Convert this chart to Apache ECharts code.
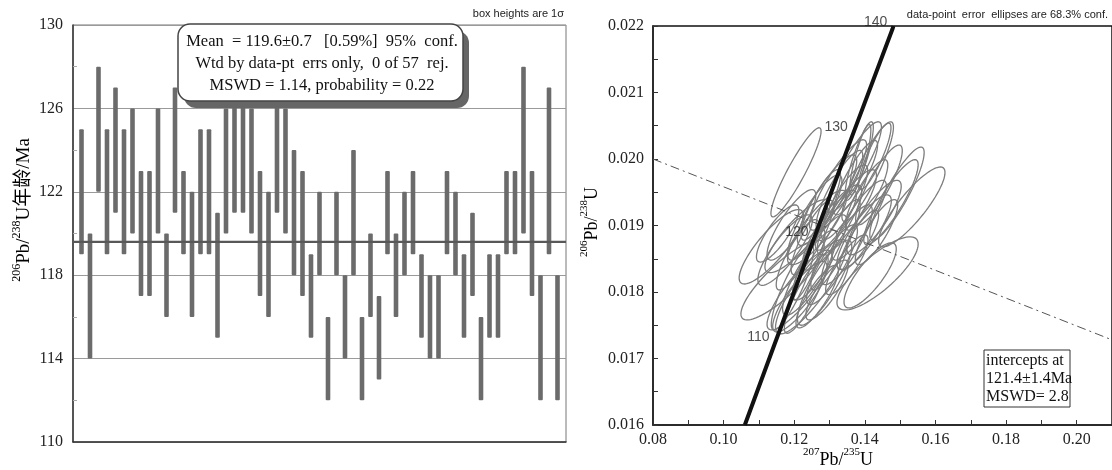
<!DOCTYPE html>
<html><head><meta charset="utf-8">
<script src="https://cdn.jsdelivr.net/npm/echarts@6/dist/echarts.min.js"></script>
<style>html,body{margin:0;padding:0;background:#fff}#c{width:1112px;height:470px}</style>
</head><body><div id="c"></div>
<script>
// ---------- Left panel: 206Pb/238U ages (box heights 1 sigma) ----------
const spotNo = [1,2,3,4,5,6,7,8,9,10,11,12,13,14,15,16,17,18,19,20,21,22,23,24,25,26,27,28,29,30,31,32,33,34,35,36,37,38,39,40,41,42,43,44,45,46,47,48,49,50,51,52,53,54,55,56,57];
const ageLow  = [119,114,122,119,121,119,120,117,117,120,116,121,119,116,119,119,115,120,121,121,120,117,116,121,120,118,117,115,118,112,118,114,118,112,116,113,119,116,118,119,115,114,114,119,118,115,117,112,115,115,119,119,120,117,112,119,112];
const ageHigh = [125,120,128,125,127,125,126,123,123,126,120,127,123,122,125,125,121,126,127,127,126,123,122,127,126,124,123,119,122,116,122,118,124,116,120,117,123,120,122,123,119,118,118,123,122,119,121,116,119,119,123,123,128,123,118,127,118];
const meanAge = 119.6;

// ---------- Right panel: concordia diagram ----------
// error ellipses: centre, half-extent in x and y, correlation
const ellCx = [0.1205,0.1135,0.1167,0.1209,0.1215,0.1248,0.1436,0.1415,0.1491,0.1474,0.1533,0.1370,0.1408,0.1384,0.1387,0.1324,0.1293,0.1258,0.1307,0.1349,0.1384,0.1317,0.1272,0.1244,0.1286,0.1195,0.1234,0.1307,0.1349,0.1398,0.1426,0.1265,0.1174,0.1328,0.1374,0.1440,0.1251,0.1209,0.1192,0.1293,0.1349,0.1384,0.1275,0.1433,0.1216,0.1318,0.1241,0.1405,0.1153,0.1428,0.1265,0.1342];
const ellCy = [0.01980,0.01868,0.01818,0.01884,0.01803,0.01808,0.01828,0.01825,0.01948,0.01935,0.01928,0.01988,0.01981,0.01997,0.01999,0.01961,0.01938,0.01912,0.01897,0.01920,0.01908,0.01871,0.01852,0.01829,0.01814,0.01807,0.01797,0.01841,0.01871,0.01890,0.01912,0.01897,0.01863,0.01953,0.01972,0.01961,0.01882,0.01856,0.01901,0.01803,0.01841,0.01878,0.01931,0.01890,0.01793,0.01908,0.01841,0.01946,0.01888,0.02004,0.01793,0.01935];
const ellSx = [0.0071,0.0091,0.0118,0.0092,0.0092,0.0101,0.0115,0.0074,0.0077,0.0077,0.0094,0.0077,0.0073,0.0040,0.0030,0.0081,0.0084,0.0077,0.0084,0.0084,0.0077,0.0070,0.0077,0.0077,0.0077,0.0060,0.0062,0.0072,0.0072,0.0077,0.0077,0.0084,0.0077,0.0066,0.0062,0.0066,0.0060,0.0060,0.0069,0.0060,0.0060,0.0055,0.0056,0.0060,0.0077,0.0058,0.0046,0.0060,0.0060,0.0046,0.0060,0.0066];
const ellSy = [0.00067,0.00056,0.00060,0.00055,0.00060,0.00071,0.00055,0.00049,0.00070,0.00064,0.00060,0.00068,0.00075,0.00059,0.00053,0.00068,0.00068,0.00064,0.00064,0.00064,0.00060,0.00068,0.00064,0.00064,0.00064,0.00064,0.00059,0.00060,0.00060,0.00056,0.00056,0.00056,0.00053,0.00060,0.00056,0.00060,0.00056,0.00053,0.00053,0.00045,0.00045,0.00045,0.00053,0.00049,0.00053,0.00045,0.00053,0.00053,0.00043,0.00050,0.00047,0.00056];
const ellRho = [0.92,0.84,0.85,0.84,0.86,0.86,0.80,0.81,0.88,0.88,0.86,0.88,0.89,0.86,0.84,0.88,0.87,0.86,0.85,0.86,0.86,0.87,0.85,0.85,0.85,0.87,0.87,0.85,0.85,0.84,0.84,0.84,0.84,0.87,0.87,0.86,0.85,0.85,0.84,0.84,0.84,0.84,0.85,0.84,0.84,0.84,0.87,0.85,0.82,0.86,0.84,0.85];
// concordia curve
const concX = [0.1060,0.1144,0.1255,0.1366,0.1478,0.1481];
const concY = [0.0160,0.01721,0.01879,0.02037,0.02195,0.0220];
// age marks on the concordia
const markAge = ['110','120','130','140'];
const markX = [0.1144,0.1255,0.1366,0.1478];
const markY = [0.01721,0.01879,0.02037,0.02195];
// dash-dot reference line
const refX = [0.08,0.21];
const refY = [0.0200,0.01728];

const SERIF = "'Liberation Serif','Noto Sans CJK SC',serif";
const SANS = "'Liberation Sans','DejaVu Sans',sans-serif";

const chart = echarts.init(document.getElementById('c'));

const supRich = {
  s: {fontFamily: SERIF, fontSize: 11, verticalAlign: 'top', lineHeight: 22, color: '#111'},
  n: {fontFamily: SERIF, fontSize: 18, verticalAlign: 'bottom', lineHeight: 22, color: '#111'}
};
const supRichBig = {
  s: {fontFamily: SERIF, fontSize: 12, verticalAlign: 'top', lineHeight: 23, color: '#111'},
  n: {fontFamily: SERIF, fontSize: 19, verticalAlign: 'bottom', lineHeight: 23, color: '#111'}
};

const option = {
  animation: false,
  backgroundColor: '#fff',
  grid: [
    {left: 73, top: 25, width: 493, height: 417, show: true, borderColor: '#777', borderWidth: 1},
    {left: 653, top: 26, width: 464, height: 399, show: true, borderColor: '#111', borderWidth: 1.5}
  ],
  xAxis: [
    {gridIndex: 0, type: 'value', min: 0, max: 58,
     axisLine: {show: true, lineStyle: {color: '#333', width: 1.5}},
     axisTick: {show: false}, axisLabel: {show: false}, splitLine: {show: false}},
    {gridIndex: 1, type: 'value', min: 0.08, max: 0.21, interval: 0.02,
     axisLine: {show: true, onZero: false, lineStyle: {color: '#222', width: 1.5}},
     axisTick: {show: true, inside: true, length: 5, lineStyle: {color: '#333'}},
     minorTick: {show: true, splitNumber: 2, length: 5, lineStyle: {color: '#333'}},
     splitLine: {show: false},
     axisLabel: {margin: 7, fontFamily: SERIF, fontSize: 16, color: '#222', showMaxLabel: false,
                 formatter: v => v.toFixed(2)}}
  ],
  yAxis: [
    {gridIndex: 0, type: 'value', min: 110, max: 130, interval: 4,
     axisLine: {show: true, lineStyle: {color: '#333', width: 1.5}},
     axisTick: {show: false, inside: true},
     minorTick: {show: true, splitNumber: 2, length: 4, lineStyle: {color: '#aaa'}},
     splitLine: {show: true, lineStyle: {color: '#9a9a9a', width: 1}},
     axisLabel: {margin: 10, fontFamily: SERIF, fontSize: 16, color: '#222'}},
    {gridIndex: 1, type: 'value', min: 0.016, max: 0.022, interval: 0.001,
     axisLine: {show: true, onZero: false, lineStyle: {color: '#222', width: 1.5}},
     axisTick: {show: true, inside: true, length: 5, lineStyle: {color: '#333'}},
     minorTick: {show: true, splitNumber: 2, length: 5, lineStyle: {color: '#333'}},
     splitLine: {show: false},
     axisLabel: {margin: 9, fontFamily: SERIF, fontSize: 16, color: '#222',
                 formatter: v => v.toFixed(3)}}
  ],
  series: [
    {
      type: 'custom', xAxisIndex: 0, yAxisIndex: 0, z: 3,
      encode: {x: 0, y: [1, 2]},
      data: spotNo.map((n, i) => [n, ageLow[i], ageHigh[i]]),
      renderItem: function (params, api) {
        const top = api.coord([api.value(0), api.value(2)]);
        const bot = api.coord([api.value(0), api.value(1)]);
        const w = 4.6;
        return {type: 'rect', shape: {x: top[0] - w / 2, y: top[1], width: w, height: bot[1] - top[1], r: 1},
                style: {fill: '#6b6b6b'}};
      }
    },
    {
      type: 'line', xAxisIndex: 0, yAxisIndex: 0, z: 4, symbol: 'none',
      data: [[0, meanAge], [58, meanAge]],
      lineStyle: {color: '#585858', width: 2.2}
    },
    {
      type: 'custom', xAxisIndex: 1, yAxisIndex: 1, z: 3,
      encode: {x: 0, y: 1},
      data: ellCx.map((c, i) => [c, ellCy[i], ellSx[i], ellSy[i], ellRho[i]]),
      renderItem: function (params, api) {
        const cx = api.value(0), cy = api.value(1), sx = api.value(2), sy = api.value(3), r = api.value(4);
        const q = Math.sqrt(1 - r * r);
        const pts = [];
        for (let k = 0; k < 72; k++) {
          const t = k / 72 * Math.PI * 2;
          pts.push(api.coord([cx + sx * Math.cos(t), cy + sy * (r * Math.cos(t) + q * Math.sin(t))]));
        }
        return {type: 'polygon', shape: {points: pts}, style: {fill: 'none', stroke: '#7d7d7d', lineWidth: 1.3}};
      }
    },
    {
      type: 'line', xAxisIndex: 1, yAxisIndex: 1, z: 4, symbol: 'none',
      data: refX.map((x, i) => [x, refY[i]]),
      lineStyle: {color: '#555', width: 1, type: [9, 4, 2, 4]}
    },
    {
      type: 'line', xAxisIndex: 1, yAxisIndex: 1, z: 5, symbol: 'none',
      data: concX.map((x, i) => [x, concY[i]]),
      lineStyle: {color: '#111', width: 4}
    },
    {
      type: 'scatter', xAxisIndex: 1, yAxisIndex: 1, z: 6, symbolSize: 2,
      itemStyle: {color: '#111'},
      data: markX.map((x, i) => [x, markY[i], markAge[i]]),
      label: {show: true, position: 'left', distance: 4, offset: [0, -7],
              formatter: p => p.value[2], fontFamily: SANS, fontSize: 14, color: '#222'}
    }
  ],
  graphic: [
    // left y-axis title
    {type: 'text', x: 22, y: 210, rotation: Math.PI / 2, z: 10,
     style: {text: '{s|206}{n|Pb/}{s|238}{n|U年龄/Ma}', rich: supRichBig, align: 'center', verticalAlign: 'middle'}},
    // right y-axis title
    {type: 'text', x: 590, y: 222, rotation: Math.PI / 2, z: 10,
     style: {text: '{s|206}{n|Pb/}{s|238}{n|U}', rich: supRich, align: 'center', verticalAlign: 'middle'}},
    // right x-axis title
    {type: 'text', x: 838, y: 458, z: 10,
     style: {text: '{s|207}{n|Pb/}{s|235}{n|U}', rich: supRich, align: 'center', verticalAlign: 'middle'}},
    // notes
    {type: 'text', x: 564, y: 14, z: 10,
     style: {text: 'box heights are 1σ', fontFamily: SANS, fontSize: 11, fill: '#222', align: 'right', verticalAlign: 'middle'}},
    {type: 'text', x: 1108, y: 15, z: 10,
     style: {text: 'data-point  error  ellipses are 68.3% conf.', fontFamily: SANS, fontSize: 11, fill: '#222', align: 'right', verticalAlign: 'middle'}},
    // mean box with shadow
    {type: 'rect', z: 20, shape: {x: 184, y: 31, width: 285, height: 77, r: 12}, style: {fill: '#666'}},
    {type: 'rect', z: 21, shape: {x: 178, y: 24, width: 285, height: 77, r: 12}, style: {fill: '#fff', stroke: '#444', lineWidth: 1.5}},
    {type: 'text', z: 22, x: 322, y: 42,
     style: {text: 'Mean  = 119.6±0.7   [0.59%]  95%  conf.', fontFamily: SERIF, fontSize: 16.5, fill: '#111', align: 'center', verticalAlign: 'middle'}},
    {type: 'text', z: 22, x: 322, y: 64,
     style: {text: 'Wtd by data-pt  errs only,  0 of 57  rej.', fontFamily: SERIF, fontSize: 16.5, fill: '#111', align: 'center', verticalAlign: 'middle'}},
    {type: 'text', z: 22, x: 322, y: 86,
     style: {text: 'MSWD = 1.14, probability = 0.22', fontFamily: SERIF, fontSize: 16.5, fill: '#111', align: 'center', verticalAlign: 'middle'}},
    // intercepts box
    {type: 'rect', z: 20, shape: {x: 984, y: 350, width: 86, height: 57}, style: {fill: '#fff', stroke: '#333', lineWidth: 1}},
    {type: 'text', z: 22, x: 986, y: 361,
     style: {text: 'intercepts at', fontFamily: SERIF, fontSize: 16, fill: '#111', align: 'left', verticalAlign: 'middle'}},
    {type: 'text', z: 22, x: 986, y: 379,
     style: {text: '121.4±1.4Ma', fontFamily: SERIF, fontSize: 16, fill: '#111', align: 'left', verticalAlign: 'middle'}},
    {type: 'text', z: 22, x: 986, y: 397,
     style: {text: 'MSWD= 2.8', fontFamily: SERIF, fontSize: 16, fill: '#111', align: 'left', verticalAlign: 'middle'}}
  ]
};
chart.setOption(option);
</script>
</body></html>
